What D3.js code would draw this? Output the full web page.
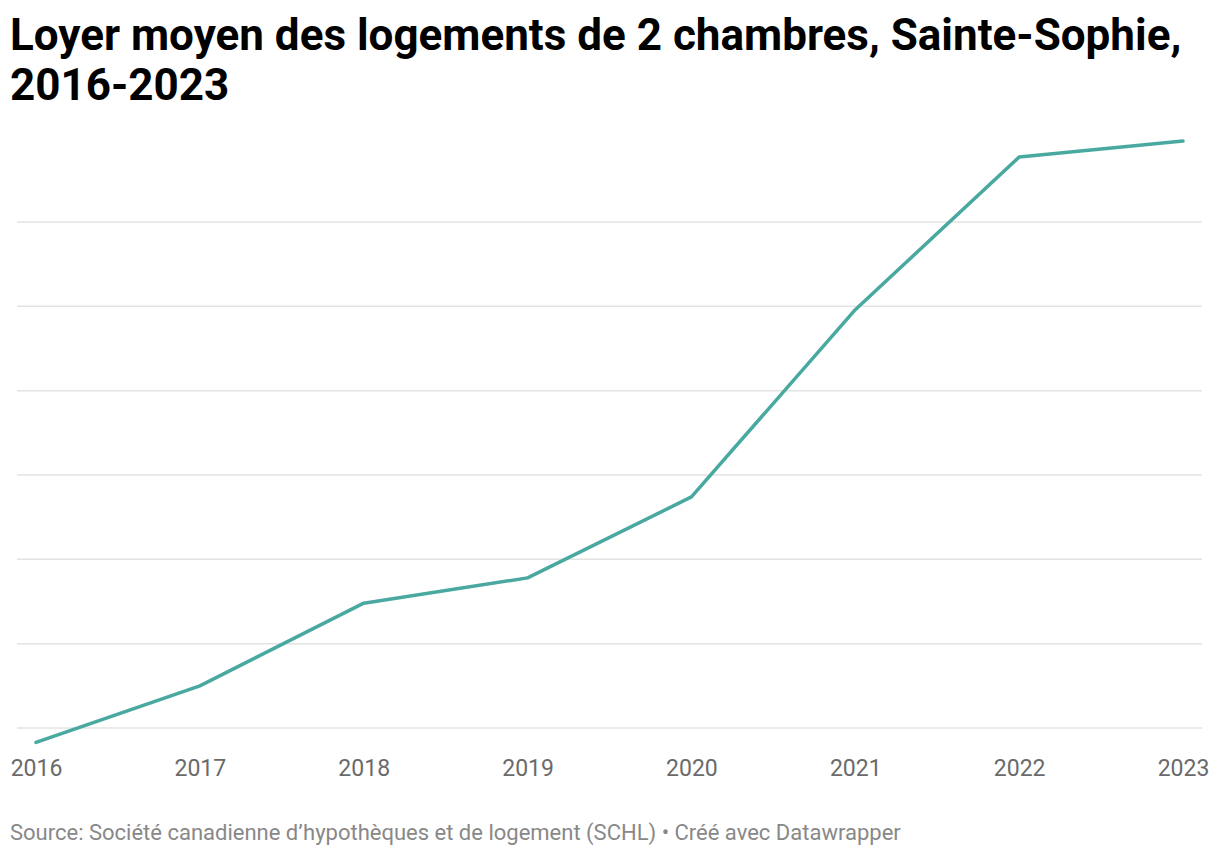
<!DOCTYPE html>
<html>
<head>
<meta charset="utf-8">
<script src="https://cdn.jsdelivr.net/npm/d3@7"></script>
<style>
  body { margin: 0; background: #fff; }
  svg { display: block; font-family: Roboto, sans-serif; }
</style>
</head>
<body>
<svg width="1220" height="858"></svg>
<script>
// data (no y labels shown, values estimated)
const years = [2016, 2017, 2018, 2019, 2020, 2021, 2022, 2023];
const rents = [583, 650, 748, 778, 874, 1096, 1277, 1296];
const gridValues = [600, 700, 800, 900, 1000, 1100, 1200];

const svg = d3.select("svg");

// title
const title = svg.append("text")
  .attr("x", 10)
  .attr("font-size", 44)
  .attr("font-weight", "bold")
  .attr("fill", "#000");
title.append("tspan").attr("x", 10).attr("y", 50)
  .text("Loyer moyen des logements de 2 chambres, Sainte-Sophie,");
title.append("tspan").attr("x", 10).attr("y", 100)
  .text("2016-2023");

const x = d3.scalePoint().domain(years).range([36, 1183]);
const y = d3.scaleLinear().domain([600, 1200]).range([728, 222]);

// gridlines
svg.append("g")
  .selectAll("line")
  .data(gridValues)
  .enter()
  .append("line")
  .attr("x1", 17)
  .attr("x2", 1202)
  .attr("y1", (d) => y(d))
  .attr("y2", (d) => y(d))
  .attr("stroke", "#e3e3e3")
  .attr("stroke-width", 1.5);

// x axis labels
const xAxis = d3.axisBottom(x).tickSize(0).tickPadding(0);
const gx = svg.append("g")
  .attr("transform", "translate(0, 760)")
  .call(xAxis);
gx.select(".domain").remove();
gx.selectAll("text")
  .attr("font-family", "Roboto, sans-serif")
  .attr("font-size", 23)
  .attr("fill", "#6a6a6a")
  .attr("dy", "0.71em");

// line
const line = d3.line()
  .x((d, i) => x(years[i]))
  .y((d) => y(d));

svg.append("path")
  .datum(rents)
  .attr("d", line)
  .attr("fill", "none")
  .attr("stroke", "#49a9a1")
  .attr("stroke-width", 3.5)
  .attr("stroke-linejoin", "round")
  .attr("stroke-linecap", "round");

// source
svg.append("text")
  .attr("x", 10)
  .attr("y", 840)
  .attr("font-size", 22)
  .attr("fill", "#888")
  .text("Source: Société canadienne d’hypothèques et de logement (SCHL) • Créé avec Datawrapper");
</script>
</body>
</html>
